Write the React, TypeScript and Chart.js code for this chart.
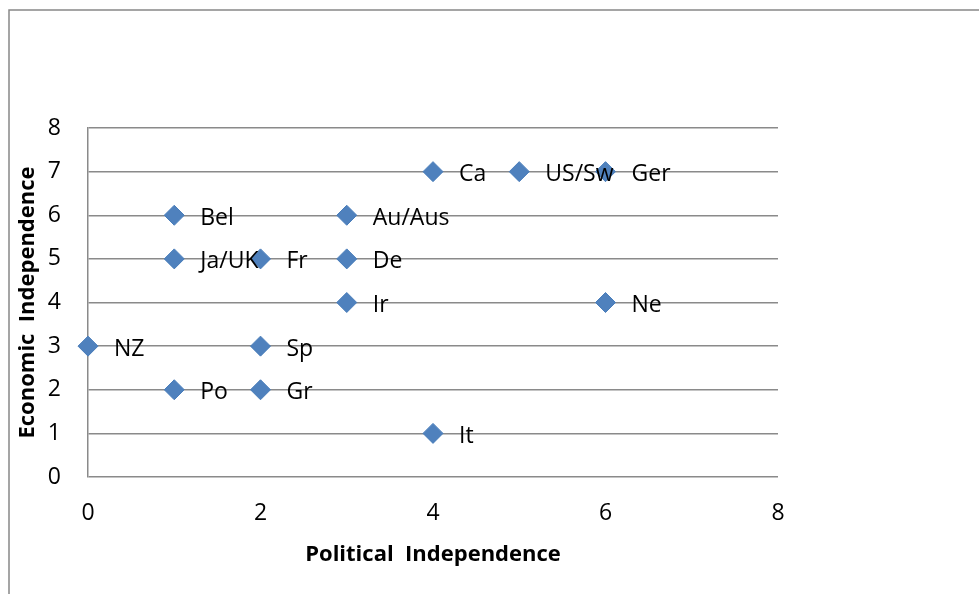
import React, { useEffect, useRef } from "react";
import { Chart, registerables } from "chart.js";

Chart.register(...registerables);

const countries = ["NZ", "Bel", "Ja/UK", "Po", "Fr", "Sp", "Gr", "Au/Aus", "De", "Ir", "Ca", "It", "US/Sw", "Ger", "Ne"];
const political = [0, 1, 1, 1, 2, 2, 2, 3, 3, 3, 4, 4, 5, 6, 6];
const economic = [3, 6, 5, 2, 5, 3, 2, 6, 5, 4, 7, 1, 7, 7, 4];

const xTitle = "Political  Independence";
const yTitle = "Economic  Independence";

const FONT = "'Open Sans', 'DejaVu Sans', sans-serif";
const GRID = "#8a8a8a";

const framePlugin = {
  id: "frame",
  beforeDraw(chart: any) {
    const ctx = chart.ctx;
    ctx.save();
    ctx.fillStyle = "#ffffff";
    ctx.fillRect(0, 0, chart.width, chart.height);
    ctx.strokeStyle = "#888888";
    ctx.lineWidth = 1.5;
    ctx.strokeRect(9, 10, 2000, 2000);
    ctx.restore();
  },
};

const labelPlugin = {
  id: "pointLabels",
  afterDatasetsDraw(chart: any) {
    const ctx = chart.ctx;
    const meta = chart.getDatasetMeta(0);
    ctx.save();
    ctx.font = `23px ${FONT}`;
    ctx.fillStyle = "#000000";
    ctx.textAlign = "left";
    ctx.textBaseline = "middle";
    meta.data.forEach((el: any, i: number) => {
      ctx.fillText(countries[i], el.x + 26, el.y + 3);
    });
    ctx.restore();
  },
};

export default function App() {
  const ref = useRef<HTMLCanvasElement | null>(null);

  useEffect(() => {
    if (!ref.current) return;
    const chart = new Chart(ref.current, {
      type: "scatter",
      data: {
        datasets: [
          {
            label: "Independence",
            data: political.map((x, i) => ({ x, y: economic[i] })),
            pointStyle: "rectRot",
            pointRadius: 10,
            pointHoverRadius: 10,
            backgroundColor: "#4F81BD",
            borderColor: "#4A7EBB",
            borderWidth: 1,
            clip: false,
          },
        ],
      },
      options: {
        responsive: false,
        animation: false,
        devicePixelRatio: 1,
        layout: { padding: { left: 0, top: 128, right: 201, bottom: 0 } },
        plugins: {
          legend: { display: false },
          tooltip: { enabled: false },
        },
        scales: {
          x: {
            type: "linear",
            min: 0,
            max: 8,
            ticks: {
              stepSize: 2,
              padding: 23,
              color: "#000000",
              font: { family: FONT, size: 23 },
            },
            grid: { display: false, drawTicks: false },
            border: { display: false },
            title: {
              display: true,
              text: xTitle,
              color: "#000000",
              font: { family: FONT, size: 22, weight: "bold" },
              padding: { top: 0, bottom: 26 },
            },
            afterFit(scale: any) {
              scale.height = 117;
            },
          },
          y: {
            type: "linear",
            min: 0,
            max: 8,
            ticks: {
              stepSize: 1,
              padding: 27,
              color: "#000000",
              font: { family: FONT, size: 23 },
            },
            grid: { color: GRID, lineWidth: 1.5, drawTicks: false },
            border: { display: true, color: GRID, width: 1.5 },
            title: {
              display: true,
              text: yTitle,
              color: "#000000",
              font: { family: FONT, size: 22, weight: "bold" },
              padding: { top: 15, bottom: 0 },
            },
            afterFit(scale: any) {
              scale.width = 88;
            },
          },
        },
      },
      plugins: [framePlugin, labelPlugin],
    });
    return () => chart.destroy();
  }, []);

  return (
    <div style={{ position: "fixed", left: 0, top: 0, width: 979, height: 594, background: "#fff" }}>
      <canvas ref={ref} width={979} height={594} style={{ display: "block" }} />
    </div>
  );
}
